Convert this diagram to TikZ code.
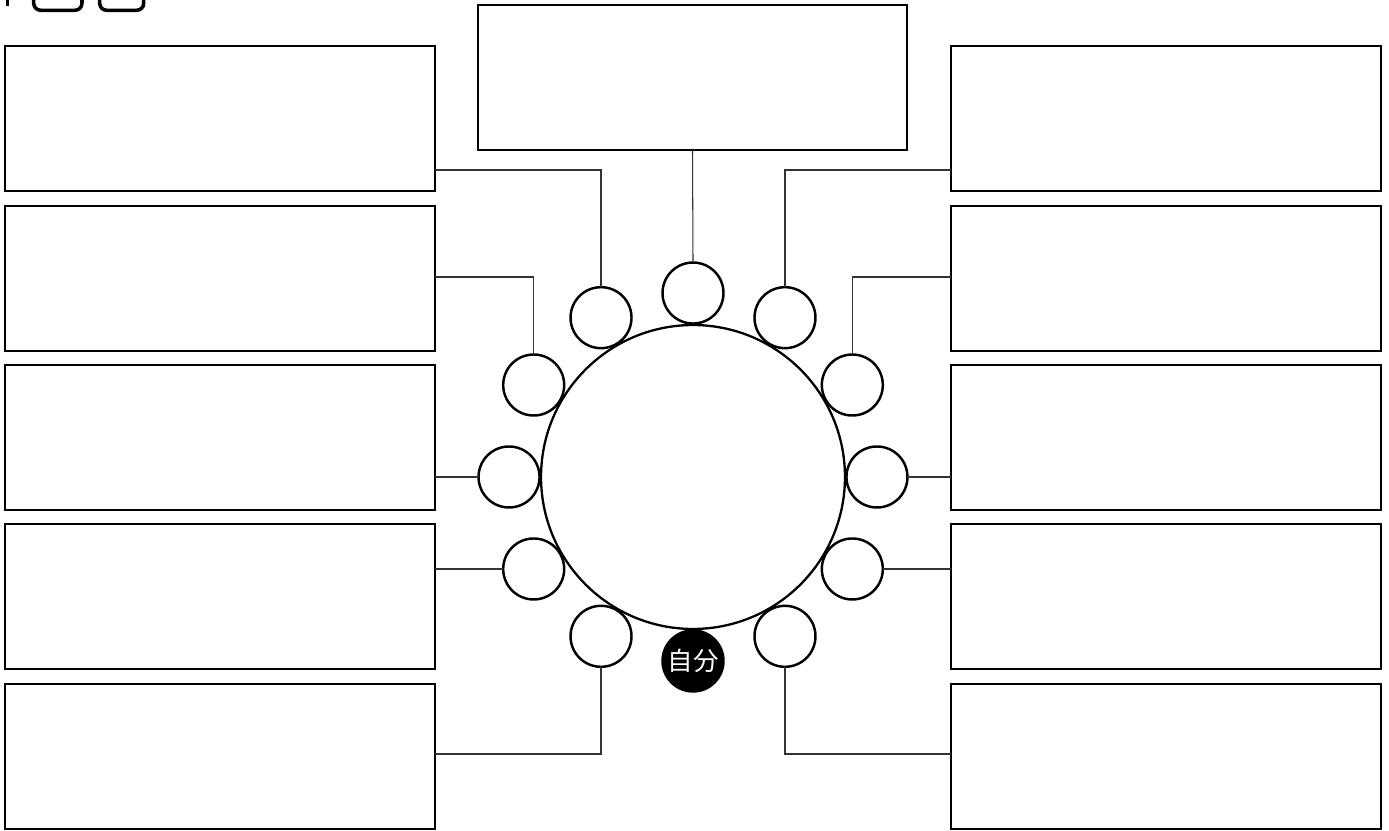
\documentclass[tikz,border=0pt]{standalone}
\usepackage{fontspec}
\newfontfamily\jpfont{Noto Sans CJK JP}
\usetikzlibrary{calc}

\begin{document}
\begin{tikzpicture}[x=0.02cm, y=0.02cm,
  % note frames left, right and on top
  box/.style={draw, line width=0.85pt, minimum width=8.6cm, minimum height=2.9cm, inner sep=0pt, outer sep=0pt},
  % the big table in the middle
  hub/.style={circle, draw, line width=1.3pt, minimum size=6.08cm, inner sep=0pt, outer sep=0pt},
  % seats round the table
  ring/.style={circle, draw, fill=white, line width=1.4pt, minimum size=1.22cm, inner sep=0pt, outer sep=0pt},
  self/.style={ring, fill=black, text=white, font=\jpfont\fontsize{14.5}{14.5}\selectfont},
  link/.style={draw=black!80, line width=0.6pt},
]
\useasboundingbox (0,0) rectangle (1389,831);
\clip (0,0) rectangle (1389,831);

% cut-off marks at the upper edge
\draw[line width=2pt] (7.7,840) -- (7.7,825);
\draw[line width=2pt, rounded corners=4pt] (33.7,860) -- (33.7,820.7) -- (82,820.7) -- (82,860);
\draw[line width=2pt, rounded corners=4pt] (99.7,860) -- (99.7,820.7) -- (143.7,820.7) -- (143.7,860);

% frames
\node[box, minimum width=8.58cm] (T) at (692.5,753.5) {};
\foreach \i/\y in {1/712.5,2/552.5,3/393.5,4/234.5,5/74.5} {
  \node[box] (L\i) at (220,\y) {};
  \node[box] (R\i) at (1166,\y) {};
}

% table and seats
\node[hub] (hub) at (693,354) {};
\foreach \a in {0,30,60,90,120,150,180,210,240,300,330} {
  \node[ring] (r\a) at ($(hub)+(\a:3.68cm)$) {};
}
\node[self] (me) at ($(hub)+(270:3.68cm)$) {自分};

% levels of the elbow lines
\coordinate (lvlA) at (0,661);
\coordinate (lvlB) at (0,554);
\coordinate (lvlC) at (0,77);

\draw[link] (r90.north) -- (T.south);
\draw[link] (r120.north) |- (L1.east |- lvlA);
\draw[link] (r60.north) |- (R1.west |- lvlA);
\draw[link] (r150.north) |- (L2.east |- lvlB);
\draw[link] (r30.north) |- (R2.west |- lvlB);
\draw[link] (r180.west) -- (L3.east |- r180.west);
\draw[link] (r0.east) -- (R3.west |- r0.east);
\draw[link] (r210.west) -- (L4.east |- r210.west);
\draw[link] (r330.east) -- (R4.west |- r330.east);
\draw[link] (r240.south) |- (L5.east |- lvlC);
\draw[link] (r300.south) |- (R5.west |- lvlC);
\end{tikzpicture}
\end{document}
